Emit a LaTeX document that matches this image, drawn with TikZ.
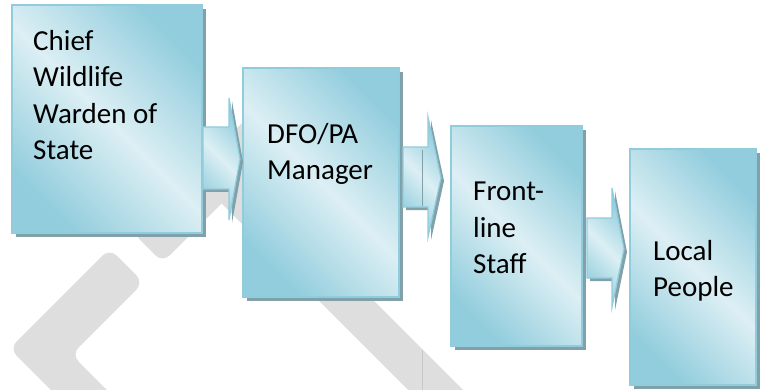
\documentclass[tikz,border=0pt]{standalone}
\usepackage{fontspec}
\setmainfont{Carlito}
\usetikzlibrary{shadows}

\definecolor{boxdark}{RGB}{146,205,221}
\definecolor{boxlight}{RGB}{220,239,244}
\definecolor{boxline}{RGB}{145,204,220}
\definecolor{boxshadow}{RGB}{128,160,170}
\definecolor{wmgray}{RGB}{222,222,222}

\tikzset{
  box/.style={rectangle, inner sep=0pt, draw=boxline, line width=1.2pt,
    left color=boxdark, right color=boxdark, middle color=boxlight,
    shading angle=135,
    drop shadow={shadow xshift=4pt, shadow yshift=-4pt, fill=boxshadow, opacity=1}},
  blockarrow/.style={draw=boxline, line width=1.2pt,
    left color=boxdark, right color=boxdark, middle color=boxlight,
    shading angle=135,
    drop shadow={shadow xshift=3pt, shadow yshift=-3pt, fill=boxshadow, opacity=1}},
  label/.style={anchor=north west, inner sep=0pt, align=left,
    font=\fontsize{29}{36.5}\selectfont}
}

\begin{document}
\begin{tikzpicture}[x=1pt,y=-1pt]
   \useasboundingbox (0,0) rectangle (765,390);
   % watermark behind the chart
   \fill[wmgray, rounded corners=10] (71.5,354.5) -- (143.5,282.5) -- (109.5,248.5)
      -- (9.5,348.5) -- (61,400) -- (117,400) -- cycle;
   \fill[wmgray, rounded corners=10] (132.5,232.5) -- (257.5,107.5) -- (287.5,137.5)
      -- (162.5,262.5) -- cycle;
   \fill[wmgray] (134,116) -- (161.5,88.5) -- (473,400) -- (418,400) -- cycle;
   \draw[black!22, line width=0.8pt] (422,350) -- (422,390);
   \begin{scope}[every node/.style={box}]
    \node[minimum width=190pt, minimum height=228pt] (chief)  at (107,119)   {};
    \node[minimum width=156pt, minimum height=229pt] (dfo)    at (321,182.5) {};
    \node[minimum width=131pt, minimum height=220pt] (staff)  at (516.5,236) {};
    \node[minimum width=126pt, minimum height=236pt] (people) at (693,267)   {};
   \end{scope}
   % block arrows between the boxes
   \path[blockarrow] (203,127) -- (229,127) -- (229,98)  -- (240,159) -- (229,220) -- (229,189) -- (203,189) -- cycle;
   \path[blockarrow] (403,147) -- (428,147) -- (428,117) -- (441,178) -- (428,237) -- (428,207) -- (403,207) -- cycle;
   \path[blockarrow] (587,218) -- (612,218) -- (612,188) -- (624,249) -- (612,307) -- (612,278) -- (587,278) -- cycle;
   \draw[boxshadow, line width=0.8pt] (422,150) -- (422,206);
   \begin{scope}[every node/.style={label}]
    \node (chieftext)  at (33,24.5)   {\strut Chief\\Wildlife\\Warden of\\State};
    \node (dfotext)    at (267,117.5) {\strut DFO/PA\\Manager};
    \node (stafftext)  at (473,175)   {\strut Front-\\line\\Staff};
    \node (peopletext) at (653,234.5) {\strut Local\\People};
   \end{scope}
\end{tikzpicture}
\end{document}
